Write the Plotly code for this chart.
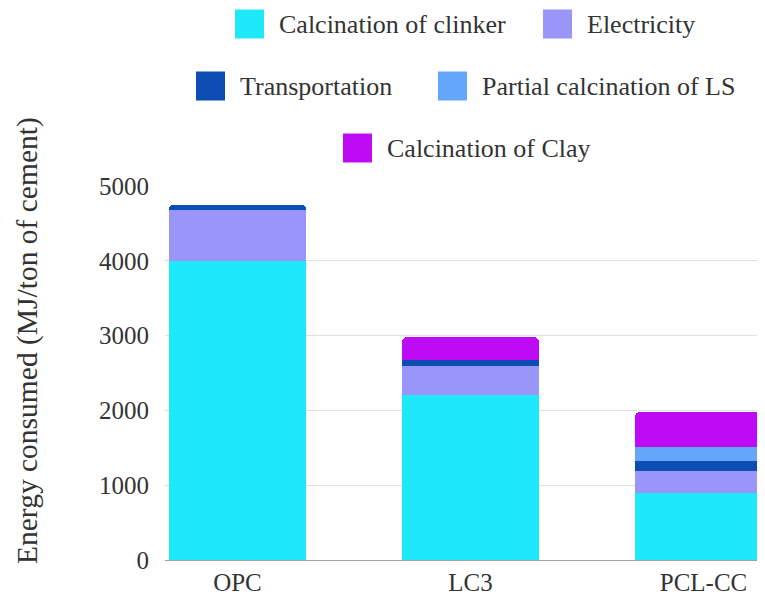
import plotly.graph_objects as go

categories = ["OPC", "LC3", "PCL-CC"]
clinker = [4000, 2200, 900]
electricity = [680, 400, 290]
transportation = [70, 80, 130]
partial_ls = [0, 0, 190]
clay = [0, 300, 470]
y_ticks = [0, 1000, 2000, 3000, 4000, 5000]

series_names = ["Calcination of clinker", "Electricity", "Transportation",
                "Partial calcination of LS", "Calcination of Clay"]
series_values = [clinker, electricity, transportation, partial_ls, clay]
series_colors = ["#1de9fa", "#9a95f8", "#0b4db3", "#63a6fb", "#bd0cf5"]

FONT = "Liberation Serif, Times New Roman, serif"
TXT = "#333333"

# page offset of the figure inside the browser page (body margin)
OFF = 8
W, H = 765 - OFF, 596 - OFF
# plot area in screen pixels
PL, PR, PT, PB = 165, 765, 186, 560
def px_x(x):
    return (x - PL) / (PR - PL)
def px_y(y):
    return (PB - y) / (PB - PT)

# legend layout: (swatch left px, row center px) per series, screen pixels
legend_pos = [(235, 24), (543, 24), (196, 86), (438, 86), (343, 148)]
SW = 29
TXT_GAP = 13

fig = go.Figure()
for name, vals, color in zip(series_names, series_values, series_colors):
    fig.add_trace(go.Bar(x=categories, y=vals, name=name, marker_color=color,
                         marker_line_width=0, showlegend=False))

shapes = []
annotations = []
for name, color, (lx, cy) in zip(series_names, series_colors, legend_pos):
    shapes.append(dict(type="rect", xref="paper", yref="paper",
                       x0=px_x(lx), x1=px_x(lx + SW),
                       y0=px_y(cy + SW / 2), y1=px_y(cy - SW / 2),
                       fillcolor=color, line_width=0, layer="above"))
    annotations.append(dict(text=name, xref="paper", yref="paper",
                            x=px_x(lx + SW + TXT_GAP), y=px_y(cy),
                            xanchor="left", yanchor="middle", showarrow=False,
                            font=dict(family=FONT, size=26, color=TXT)))

annotations.append(dict(text="Energy consumed (MJ/ton of cement)", textangle=-90,
                        xref="paper", yref="paper", x=px_x(27), y=px_y(341),
                        xanchor="center", yanchor="middle", showarrow=False,
                        borderpad=0,
                        font=dict(family=FONT, size=29.5, color=TXT)))

fig.update_layout(
    width=W, height=H,
    margin=dict(l=PL - OFF, r=765 - PR, t=PT - OFF, b=596 - PB, autoexpand=False),
    paper_bgcolor="white", plot_bgcolor="white",
    barmode="stack", bargap=0.408, barcornerradius=6,
    font=dict(family=FONT, size=25, color=TXT),
    showlegend=False,
    xaxis=dict(range=[-0.311, 2.264], showline=True, linecolor="#a0a0a0", linewidth=1,
               showgrid=False, automargin=False,
               tickfont=dict(family=FONT, size=25, color=TXT)),
    yaxis=dict(range=[0, 5000], tickvals=y_ticks, showgrid=True, gridcolor="#e0e0e0",
               zeroline=False, ticklabelstandoff=15, automargin=False,
               tickfont=dict(family=FONT, size=25, color=TXT)),
    shapes=shapes,
    annotations=annotations,
)

fig.write_html("out.html")
